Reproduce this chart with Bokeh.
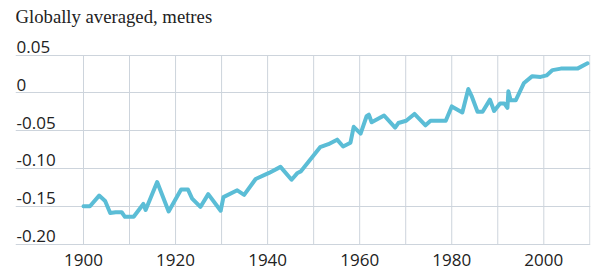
from bokeh.plotting import figure
from bokeh.models import ColumnDataSource, FixedTicker, Range1d
from bokeh.core.properties import value
from bokeh.embed import file_html
from bokeh.resources import INLINE

# ---- data ----
years = [1900, 1901.4, 1903.4, 1904.7, 1905.8, 1907, 1908.3, 1909, 1910.9, 1913, 1913.5,
         1916, 1918.5, 1921.2, 1922.7, 1923.6, 1925.4, 1927.1, 1929.8, 1930.4, 1933.4,
         1934.9, 1937.4, 1940.3, 1942.8, 1945.2, 1946.5, 1947.2, 1951.4, 1953.2, 1955.1,
         1956.4, 1958, 1958.7, 1960.2, 1961.5, 1962, 1962.6, 1965.3, 1967.7, 1968.4,
         1970.1, 1971.9, 1974.3, 1975.4, 1978.7, 1980, 1982.3, 1983.6, 1984.3, 1985.6,
         1986.7, 1988.3, 1989.2, 1990.5, 1991.4, 1992.1, 1992.3, 1992.8, 1993.9, 1995.7,
         1997.5, 1999.3, 2000.6, 2001.9, 2003.7, 2007.3, 2009.5]
sea_level = [-0.150, -0.150, -0.136, -0.143, -0.159, -0.158, -0.158, -0.164, -0.164, -0.147, -0.155,
             -0.118, -0.157, -0.128, -0.128, -0.140, -0.151, -0.134, -0.156, -0.138, -0.129,
             -0.135, -0.114, -0.106, -0.098, -0.115, -0.106, -0.104, -0.072, -0.068, -0.062,
             -0.071, -0.066, -0.045, -0.054, -0.031, -0.029, -0.039, -0.030, -0.046, -0.040,
             -0.037, -0.028, -0.043, -0.037, -0.037, -0.018, -0.026, 0.005, -0.004, -0.025,
             -0.025, -0.009, -0.024, -0.014, -0.014, -0.020, 0.002, -0.010, -0.010, 0.013,
             0.022, 0.021, 0.023, 0.030, 0.032, 0.032, 0.039]

y_ticks = [0.05, 0.0, -0.05, -0.10, -0.15, -0.20]
y_tick_labels = ["0.05", "0", "-0.05", "-0.10", "-0.15", "-0.20"]
x_grid_ticks = [1900, 1910, 1920, 1930, 1940, 1950, 1960, 1970, 1980, 1990, 2000, 2010]
x_label_ticks = [1900, 1920, 1940, 1960, 1980, 2000]
x_tick_labels = ["1900", "1920", "1940", "1960", "1980", "2000"]
title_text = "Globally averaged, metres"

LINE = "#5bbdd6"
GRID = "#cdd4dc"
TEXT = "#222222"
FONT = "Open Sans"

px_per_year = 4.603
px_per_unit = 756.0
frame_left, frame_right = 15, 590
y_bottom_px = 243.5  # pixel row of the -0.20 gridline

x0 = 1900 - (83 - frame_left) / px_per_year
x1 = 1900 + (frame_right - 83) / px_per_year
y_top = -0.20 + y_bottom_px / px_per_unit
y_bot = -0.20 - (270 - y_bottom_px) / px_per_unit

p = figure(width=604, height=270, output_backend="svg", toolbar_location=None,
           x_range=Range1d(x0, x1), y_range=Range1d(y_bot, y_top),
           min_border_left=frame_left, min_border_right=604 - frame_right,
           min_border_top=0, min_border_bottom=0)
p.outline_line_color = None
p.background_fill_color = "white"
p.border_fill_color = "white"

p.xaxis.visible = False
p.yaxis.visible = False
p.xgrid.visible = False
p.ygrid.ticker = FixedTicker(ticks=y_ticks)
p.ygrid.grid_line_color = GRID
p.ygrid.grid_line_width = 1

# vertical gridlines, limited to the value span
gsrc = ColumnDataSource(dict(x=x_grid_ticks,
                             y0=[min(y_ticks)] * len(x_grid_ticks),
                             y1=[max(y_ticks)] * len(x_grid_ticks)))
p.segment(x0="x", y0="y0", x1="x", y1="y1", source=gsrc, line_color=GRID, line_width=1)

src = ColumnDataSource(dict(x=years, y=sea_level))
p.line("x", "y", source=src, line_color=LINE, line_width=4,
       line_join="round", line_cap="round")

ylab = ColumnDataSource(dict(x=[x0] * len(y_ticks), y=y_ticks, t=y_tick_labels))
p.text(x="x", y="y", text="t", source=ylab, x_offset=1, y_offset=-8,
       text_font=value(FONT), text_font_size="17px", text_color=TEXT,
       text_baseline="alphabetic", text_align="left")

xlab = ColumnDataSource(dict(x=x_label_ticks, y=[min(y_ticks)] * len(x_label_ticks), t=x_tick_labels))
p.text(x="x", y="y", text="t", source=xlab, x_offset=0, y_offset=16,
       text_font=value(FONT), text_font_size="17px", text_color=TEXT,
       text_baseline="alphabetic", text_align="center")

tsrc = ColumnDataSource(dict(x=[x0], y=[max(y_ticks)], t=[title_text]))
p.text(x="x", y="y", text="t", source=tsrc, x_offset=0, y_offset=-39,
       text_font=value("Liberation Serif"), text_font_size="18.7px", text_color=TEXT,
       text_baseline="alphabetic", text_align="left")

open("out.html", "w").write(file_html(p, INLINE))
